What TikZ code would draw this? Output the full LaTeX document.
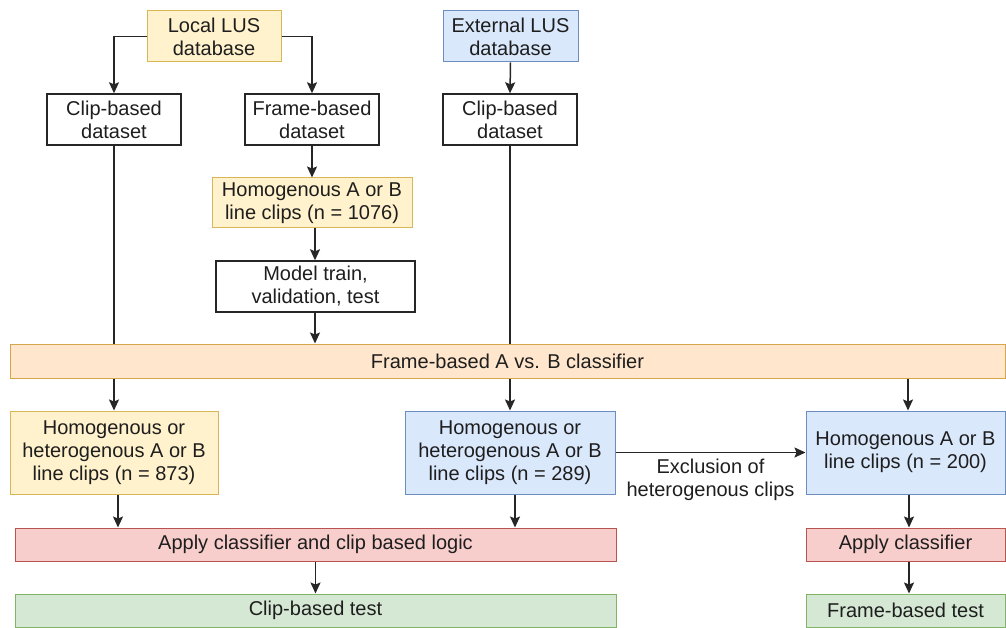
\documentclass[tikz,border=0pt]{standalone}
\usepackage{fontspec}
\setmainfont{Liberation Sans}
\usetikzlibrary{arrows.meta}
\definecolor{ylwfill}{HTML}{FFF2CC}\definecolor{ylwline}{HTML}{D6B656}
\definecolor{blufill}{HTML}{DAE8FC}\definecolor{bluline}{HTML}{6C8EBF}
\definecolor{orgfill}{HTML}{FFE6CC}\definecolor{orgline}{HTML}{D7A54A}
\definecolor{redfill}{HTML}{F8CECC}\definecolor{redline}{HTML}{B85450}
\definecolor{grnfill}{HTML}{D5E8D4}\definecolor{grnline}{HTML}{82B366}
\definecolor{txt}{HTML}{1E1E1E}
\tikzset{
  box/.style={draw, rectangle, inner sep=0pt, align=center, text=txt,
    font=\fontsize{20}{23}\selectfont, line width=1pt},
  plain/.style={box, draw=black!85, fill=white, line width=1.4pt},
  ylw/.style={box, draw=ylwline, fill=ylwfill},
  blu/.style={box, draw=bluline, fill=blufill},
  org/.style={box, draw=orgline, fill=orgfill},
  red/.style={box, draw=redline, fill=redfill},
  grn/.style={box, draw=grnline, fill=grnfill},
  arr/.style={-{Stealth[length=11pt,width=10pt,inset=2pt]}, line width=1.5pt, draw=black!85},
  ln/.style={line width=1.5pt, draw=black!85},
}
\begin{document}
\begin{tikzpicture}[x=1pt,y=-1pt]
\path[use as bounding box] (0,0) rectangle (1006,628);

% sources and datasets
\node[ylw, minimum width=134pt, minimum height=51pt] (local) at (214,36.5) {Local LUS\\database};
\node[blu, minimum width=135pt, minimum height=51pt] (ext) at (510.5,36.5) {External LUS\\database};
\node[plain, minimum width=134pt, minimum height=51pt] (clipL) at (114,119.5) {Clip-based\\dataset};
\node[plain, minimum width=134pt, minimum height=51pt] (frameD) at (312,119.5) {Frame-based\\dataset};
\node[plain, minimum width=134pt, minimum height=51pt] (clipR) at (510,119.5) {Clip-based\\dataset};
\node[ylw, minimum width=200pt, minimum height=50pt] (homo) at (312,203) {Homogenous A or B\\line clips (n = 1076)};
\node[plain, minimum width=199pt, minimum height=51pt] (model) at (315.5,286.5) {Model train,\\validation, test};

% classifier bar
\node[org, minimum width=995pt, minimum height=34pt] (clf) at (507.5,361) {Frame-based A vs. B classifier};

% evaluation sets
\node[ylw, minimum width=208pt, minimum height=83pt] (setL) at (114,452.5) {Homogenous or\\heterogenous A or B\\line clips (n = 873)};
\node[blu, minimum width=210pt, minimum height=83pt] (setM) at (510,452.5) {Homogenous or\\heterogenous A or B\\line clips (n = 289)};
\node[blu, minimum width=199pt, minimum height=83pt] (setR) at (905.5,452.5) {Homogenous A or B\\line clips (n = 200)};

% application and tests
\node[red, minimum width=601pt, minimum height=33pt] (applyL) at (315.5,544.5) {Apply classifier and clip based logic};
\node[red, minimum width=199pt, minimum height=33pt] (applyR) at (905.5,544.5) {Apply classifier};
\node[grn, minimum width=601pt, minimum height=33pt] (testL) at (315.5,610.5) {Clip-based test};
\node[grn, minimum width=199pt, minimum height=33pt] (testR) at (905.5,610.5) {Frame-based test};

% connectors
\draw[arr] (local.west) -| (clipL.north);
\draw[arr] (local.east) -| (frameD.north);
\draw[arr] (ext.south) -- (clipR.north);
\draw[arr] (frameD.south) -- (homo.north);
\draw[arr] ([xshift=3pt]homo.south) -- ([xshift=-0.5pt]model.north);
\draw[ln] (clipL.south) -- (clipL.south |- clf.north);
\draw[arr] ([xshift=-0.5pt]model.south) -- ([xshift=-0.5pt]model.south |- clf.north);
\draw[ln] (clipR.south) -- (clipR.south |- clf.north);

\draw[arr] (setL.north |- clf.south) -- (setL.north);
\draw[arr] (setM.north |- clf.south) -- (setM.north);
\draw[arr] ([xshift=2.5pt]setR.north |- clf.south) -- ([xshift=2.5pt]setR.north);

\draw[arr] ([xshift=4pt]setL.south) -- ([xshift=4pt]setL.south |- applyL.north);
\draw[arr] ([xshift=5pt]setM.south) -- ([xshift=5pt]setM.south |- applyL.north);
\draw[arr] ([xshift=3.5pt]setR.south) -- ([xshift=3.5pt]setR.south |- applyR.north);

\draw[arr] (applyL.south) -- (testL.north);
\draw[arr] ([xshift=3.5pt]applyR.south) -- ([xshift=3.5pt]testR.north);

\draw[arr] (setM.east) -- (setR.west)
  node[midway, below=2pt, align=center, text=txt, font=\fontsize{20}{23}\selectfont] (excl) {Exclusion of\\heterogenous clips};
\end{tikzpicture}
\end{document}
